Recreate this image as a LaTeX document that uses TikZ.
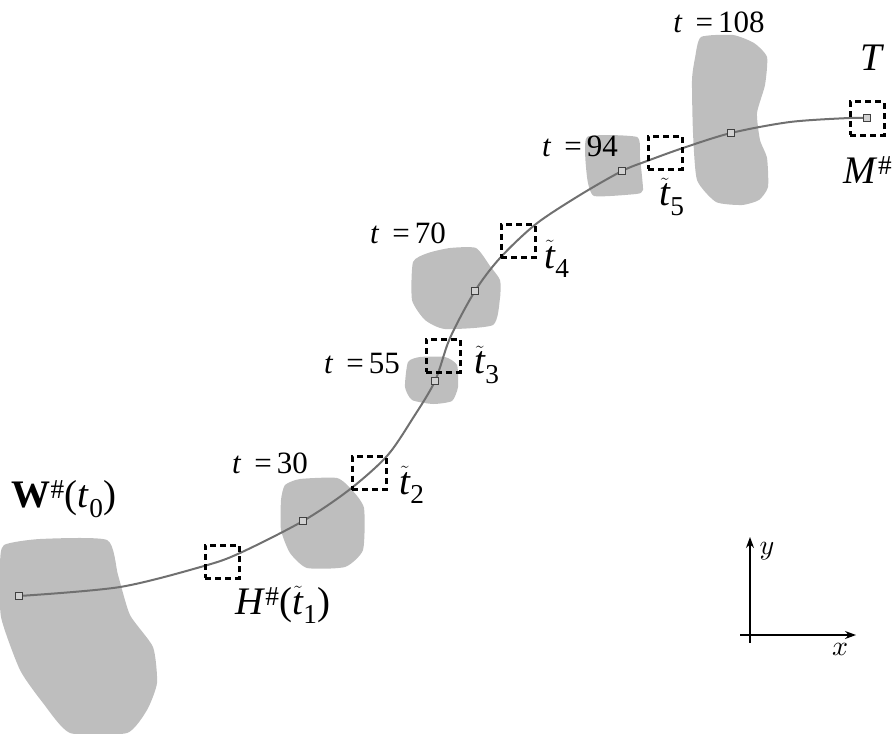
\documentclass[tikz,border=0pt]{standalone}
\usepackage{graphicx}
\usepackage{fontspec}
\setmainfont{Liberation Serif}
\usetikzlibrary{arrows.meta}
\definecolor{blobgray}{HTML}{BEBEBE}
\definecolor{curvegray}{HTML}{707070}
\tikzset{
  blob/.style={fill=blobgray,draw=none},
  curve/.style={draw=curvegray,line width=2pt},
  sq/.style={draw=black!75,fill=blobgray!70,line width=1.1pt,minimum size=7pt,inner sep=0pt},
  dbox/.style={draw=black,line width=3pt,dash pattern=on 6pt off 4pt,minimum width=34pt,minimum height=33pt,inner sep=0pt},
  small/.style={font=\fontsize{31}{36}\selectfont,inner sep=0pt},
  big/.style={font=\fontsize{39}{44}\selectfont,inner sep=0pt},
  axlab/.style={font=\normalsize,inner sep=0pt},
  axis/.style={line width=1.3pt,-{Stealth[length=11pt,width=8pt]}}
}
\newcommand{\tildet}{\ensuremath{\tilde{\mbox{\itshape t}}}}
\newcommand{\ttil}[1]{\tildet\textsubscript{#1}}
\begin{document}
\begin{tikzpicture}[x=1pt,y=-1pt]
\useasboundingbox (0,0) rectangle (893,733);
% blobs
\fill[blob] plot[smooth cycle,tension=0.35] coordinates {(4,545) (40,539) (107,540) (118,575) (130,615) (153,647) (157,683) (147,710) (127,733) (70,733) (43,703) (20,670) (1,617) (0,565)};
\fill[blob] plot[smooth cycle,tension=0.35] coordinates {(285,485) (300,479) (337,478) (352,490) (364,508) (363,550) (345,567) (307,568) (290,553) (281,530) (281,500)};
\fill[blob] plot[smooth cycle,tension=0.35] coordinates {(408,362) (420,357) (445,357) (457,365) (458,387) (452,401) (433,404) (412,400) (405,387)};
\fill[blob] plot[smooth cycle,tension=0.35] coordinates {(413,262) (428,253) (450,248) (476,248) (490,266) (500,280) (500,298) (493,325) (445,329) (425,320) (412,300)};
\fill[blob] plot[smooth cycle,tension=0.3] coordinates {(587,137) (637,137) (640,158) (643,190) (636,194) (594,196) (587,177)};
\fill[blob] plot[smooth cycle,tension=0.35] coordinates {(701,37) (733,35) (754,43) (767,57) (765,85) (757,113) (760,140) (767,158) (768,187) (759,200) (742,205) (716,202) (697,180) (693,133) (692,80) (695,58)};
% curve anchor points
\coordinate (s0) at (19,596);
\coordinate (s1) at (303,521);
\coordinate (s2) at (435,381);
\coordinate (s3) at (475,291);
\coordinate (s4) at (622,171);
\coordinate (s5) at (731,133);
\coordinate (s6) at (867,118);
\draw[curve] plot[smooth,tension=0.5] coordinates {(s0) (120,587) (204,566) (240,553) (s1) (349,490) (387,456) (413,418) (s2) (450,338) (s3) (500,258) (536,224) (580,195) (s4) (647,161) (683,148) (s5) (790,122) (849,118) (s6)};
% squares
\foreach \n in {s0,s1,s2,s3,s4,s5,s6} \node[sq] (q\n) at (\n) {};
% dashed boxes
\node[dbox] (b1) at (222,561.5) {};
\node[dbox] (b2) at (369,473) {};
\node[dbox] (b3) at (443,355.5) {};
\node[dbox] (b4) at (518,241) {};
\node[dbox] (b5) at (665,152.5) {};
\node[dbox] (bT) at (867,118.5) {};
% labels
\node[big] (lW) at (64,499) {\textbf{W}\textsuperscript{\#}(\textit{t}\textsubscript{0})};
\node[big] (lH) at (283,605) {\textit{H}\textsuperscript{\#}(\ttil{1})};
\node[small] (l30) at (270,463) {\textit{t}\, =\,30};
\node[small] (l55) at (362,363) {\textit{t}\, =\,55};
\node[small] (l70) at (408,233) {\textit{t}\, =\,70};
\node[small] (l94) at (580,146) {\textit{t}\, =\,94};
\node[small] (l108) at (719,22) {\textit{t}\, =\,108};
\node[big] (lt2) at (412,485) {\ttil{2}};
\node[big] (lt3) at (487,365) {\ttil{3}};
\node[big] (lt4) at (557,259) {\ttil{4}};
\node[big] (lt5) at (672,197) {\ttil{5}};
\node[big] (lT) at (872,58) {\textit{T}};
\node[big] (lM) at (868,170) {\textit{M}\textsuperscript{\#}};
% axes
\coordinate (o) at (750,635);
\coordinate (ax) at (856,635);
\coordinate (ay) at (750,537);
\draw[line width=1.3pt] (740,635) -- (o) -- (750,643);
\draw[axis] (o) -- (ax);
\draw[axis] (o) -- (ay);
\node[axlab] (lx) at (840,649) {\scalebox{2.8}{$x$}};
\node[axlab] (ly) at (767,551) {\scalebox{2.8}{$y$}};
\end{tikzpicture}
\end{document}
